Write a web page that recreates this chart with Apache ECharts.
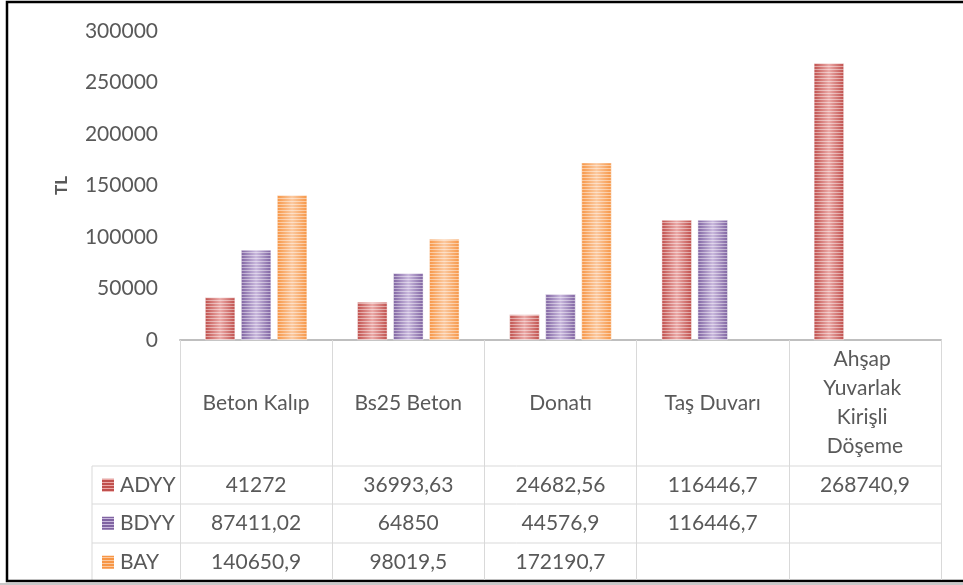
<!DOCTYPE html>
<html><head><meta charset="utf-8">
<script src="https://cdn.jsdelivr.net/npm/echarts@6/dist/echarts.min.js"></script>
<style>html,body{margin:0;padding:0;background:#fff}#c{width:963px;height:585px}</style>
</head><body><div id="c"></div>
<script>
const categories = ['Beton Kalıp', 'Bs25 Beton', 'Donatı', 'Taş Duvarı', 'Ahşap Yuvarlak Kirişli Döşeme'];
const seriesNames = ['ADYY', 'BDYY', 'BAY'];
const adyy = [41272, 36993.63, 24682.56, 116446.7, 268740.9];
const bdyy = [87411.02, 64850, 44576.9, 116446.7, null];
const bay = [140650.9, 98019.5, 172190.7, null, null];
const yMin = 0, yMax = 300000, yStep = 50000;
const yName = 'TL';

const FONT = 'Lato';
const FS = 21;
const TXT = '#595959';
const baseColors = ['#C0504D', '#8064A2', '#F79646'];
const midColors = ['#EBA9A7', '#C9B8DD', '#FBC9A0'];
const allData = [adyy, bdyy, bay];

function grad(i) {
  return new echarts.graphic.LinearGradient(0, 0, 1, 0, [
    { offset: 0, color: baseColors[i] },
    { offset: 0.5, color: midColors[i] },
    { offset: 1, color: baseColors[i] }
  ]);
}
function stripePattern(i) {
  const cv = document.createElement('canvas');
  cv.width = 4; cv.height = 3;
  const g = cv.getContext('2d');
  g.fillStyle = baseColors[i]; g.fillRect(0, 0, 4, 3);
  g.fillStyle = midColors[i]; g.fillRect(0, 2, 4, 1);
  return { image: cv, repeat: 'repeat' };
}
function fmt(v) { return v == null ? '' : String(v).replace('.', ','); }

const chart = echarts.init(document.getElementById('c'), null, { renderer: 'canvas' });
const option = {
  animation: false,
  backgroundColor: '#fff',
  grid: { left: 180, right: 22, top: 31, bottom: 245 },
  xAxis: {
    type: 'category',
    data: categories,
    axisLine: { lineStyle: { color: '#BFBFBF', width: 2 } },
    axisTick: { show: true, interval: 0, length: 240, lineStyle: { color: '#D9D9D9', width: 1 } },
    axisLabel: {
      interval: 0, margin: 63, verticalAlign: 'middle', color: TXT,
      fontFamily: FONT, fontSize: FS, lineHeight: 29, width: 130, overflow: 'break'
    },
    splitLine: { show: false }
  },
  yAxis: {
    type: 'value', min: yMin, max: yMax, interval: yStep,
    name: yName, nameLocation: 'middle', nameGap: 110, nameRotate: 90,
    nameTextStyle: { color: TXT, fontFamily: FONT, fontSize: 17, fontWeight: 'bold' },
    axisLine: { show: false }, axisTick: { show: false },
    splitLine: { show: false },
    axisLabel: { margin: 22, color: TXT, fontFamily: FONT, fontSize: FS, formatter: v => String(v) }
  },
  series: seriesNames.map((n, i) => ({
    name: n, type: 'bar', data: allData[i], barWidth: 30, barGap: '20%',
    itemStyle: {
      color: grad(i),
      borderColor: 'rgba(255,255,255,0.35)', borderWidth: 0.5,
      decal: { symbol: 'rect', symbolSize: 1, dashArrayX: [1, 0], dashArrayY: [1, 2], rotation: 0, color: 'rgba(255,255,255,0.45)' }
    }
  }))
};
chart.setOption(option);

// Data table drawn below the axis, positioned with the chart's own scales
const y0 = chart.convertToPixel({ yAxisIndex: 0 }, 0);
const xl = chart.convertToPixel({ xAxisIndex: 0 }, 0);
const xr = chart.convertToPixel({ xAxisIndex: 0 }, categories.length - 1);
const colW = (xr - xl) / (categories.length - 1);
const gridRight = xr + colW / 2;
const tableLeft = 92;
const rowTop = [y0 + 126, y0 + 164, y0 + 203];
const rowH = 38.5;
const tableBottom = 580;
const els = [];
rowTop.forEach(t => {
  els.push({ type: 'line', shape: { x1: tableLeft, y1: t, x2: gridRight, y2: t }, style: { stroke: '#D9D9D9', lineWidth: 1 } });
});
els.push({ type: 'line', shape: { x1: tableLeft, y1: rowTop[0], x2: tableLeft, y2: tableBottom }, style: { stroke: '#D9D9D9', lineWidth: 1 } });
seriesNames.forEach((n, i) => {
  const cy = rowTop[i] + rowH / 2;
  els.push({ type: 'rect', shape: { x: 102, y: cy - 6.5, width: 12, height: 13 }, style: { fill: stripePattern(i) } });
  els.push({ type: 'text', style: { x: 120, y: cy, text: n, fill: TXT, font: FS + 'px ' + FONT, textVerticalAlign: 'middle', textAlign: 'left' } });
  allData[i].forEach((v, j) => {
    const cx = chart.convertToPixel({ xAxisIndex: 0 }, j);
    els.push({ type: 'text', style: { x: cx, y: cy, text: fmt(v), fill: TXT, font: FS + 'px ' + FONT, textVerticalAlign: 'middle', textAlign: 'center' } });
  });
});
// outer frame
els.push({ type: 'line', shape: { x1: 0, y1: 584, x2: 963, y2: 584 }, style: { stroke: '#C8C8C8', lineWidth: 2 } });
els.push({ type: 'rect', shape: { x: 7, y: 2, width: 975, height: 579 }, style: { stroke: '#000', lineWidth: 2.5, fill: null } });
chart.setOption({ graphic: { elements: els } });
</script>
</body></html>
